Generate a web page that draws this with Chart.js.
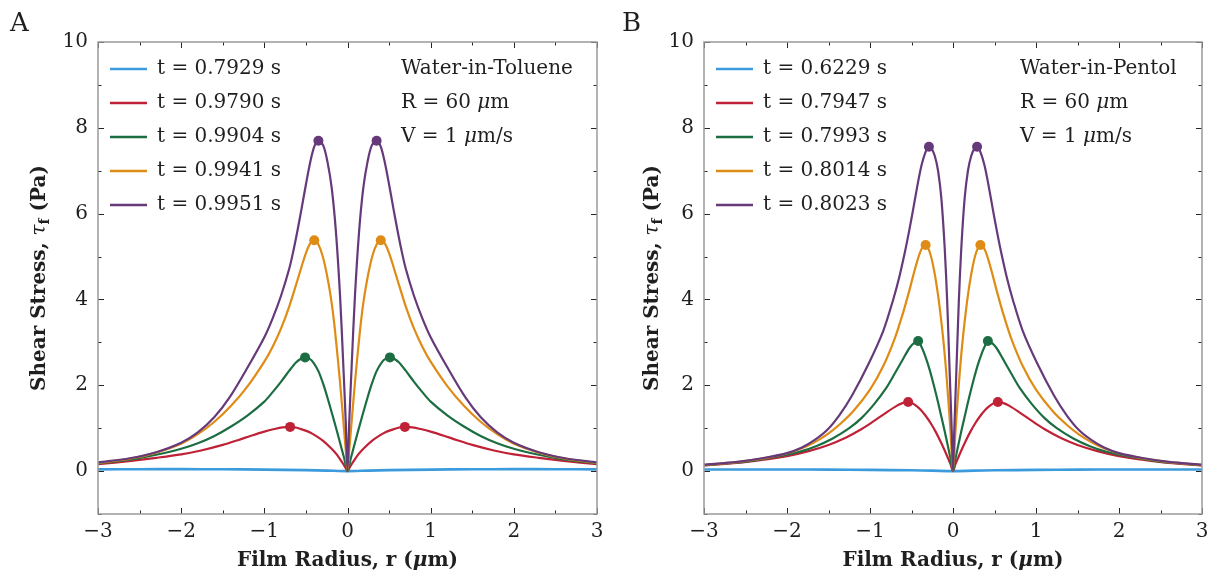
<!DOCTYPE html>
<html>
<head>
<meta charset="utf-8">
<title>Shear stress profiles</title>
<script src="https://cdn.jsdelivr.net/npm/chart.js@4.4.1/dist/chart.umd.min.js"></script>
<style>
  html, body { margin: 0; padding: 0; background: #fff; }
  #wrap { position: relative; width: 1209px; height: 576px; }
  .panel { position: absolute; top: 0; height: 576px; }
  #panelA { left: 0; width: 604px; }
  #panelB { left: 604px; width: 605px; }
</style>
</head>
<body>
<div id="wrap">
  <div class="panel" id="panelA"><canvas id="chartA"></canvas></div>
  <div class="panel" id="panelB"><canvas id="chartB"></canvas></div>
</div>
<script>
// Axes
const xTicks = [-3, -2, -1, 0, 1, 2, 3];
const xMinorTicks = [-2.5, -1.5, -0.5, 0.5, 1.5, 2.5];
const yTicks = [0, 2, 4, 6, 8, 10];
const yMinorTicks = [-1, 1, 3, 5, 7, 9];

// Legend labels
const labelsA = ['t = 0.7929 s', 't = 0.9790 s', 't = 0.9904 s', 't = 0.9941 s', 't = 0.9951 s'];
const labelsB = ['t = 0.6229 s', 't = 0.7947 s', 't = 0.7993 s', 't = 0.8014 s', 't = 0.8023 s'];
const colors = ['#3C9BDD', '#BF2236', '#1C6E42', '#DF8C16', '#663A7A'];

// Panel A (Water-in-Toluene), half profiles r >= 0 (the curves are symmetric)
const rBlueA = [0, 0.25, 0.5, 1, 1.5, 2, 2.5, 3];
const tauBlueA = [0, 0.012, 0.022, 0.035, 0.042, 0.045, 0.044, 0.04];
const rRedA = [0, 0.03, 0.07, 0.13, 0.2, 0.29, 0.37, 0.45, 0.53, 0.61, 0.69, 0.78, 0.88, 1.0, 1.15, 1.32, 1.5, 1.76, 2.0, 2.3, 2.6, 3.0];
const tauRedA = [0, 0.10, 0.22, 0.39, 0.54, 0.70, 0.81, 0.90, 0.96, 1.01, 1.03, 1.02, 0.98, 0.92, 0.83, 0.72, 0.61, 0.48, 0.39, 0.31, 0.24, 0.16];
const rGreenA = [0, 0.04, 0.08, 0.13, 0.18, 0.23, 0.29, 0.35, 0.41, 0.46, 0.51, 0.56, 0.62, 0.70, 0.80, 0.90, 1.0, 1.2, 1.4, 1.6, 1.8, 2.0, 2.3, 2.6, 3.0];
const tauGreenA = [0, 0.30, 0.59, 0.95, 1.30, 1.64, 2.02, 2.33, 2.53, 2.62, 2.65, 2.62, 2.53, 2.34, 2.08, 1.84, 1.62, 1.30, 1.04, 0.82, 0.65, 0.52, 0.38, 0.27, 0.18];
const rOrangeA = [0, 0.02, 0.04, 0.08, 0.11, 0.16, 0.20, 0.25, 0.30, 0.35, 0.40, 0.45, 0.50, 0.55, 0.60, 0.70, 0.80, 0.90, 1.0, 1.2, 1.4, 1.6, 1.8, 2.0, 2.3, 2.6, 3.0];
const tauOrangeA = [0, 0.47, 0.93, 1.85, 2.49, 3.45, 4.05, 4.60, 5.02, 5.28, 5.38, 5.30, 5.08, 4.78, 4.46, 3.84, 3.32, 2.90, 2.55, 1.98, 1.52, 1.15, 0.86, 0.64, 0.43, 0.295, 0.19];
const rPurpleA = [0, 0.02, 0.05, 0.09, 0.14, 0.19, 0.24, 0.29, 0.35, 0.40, 0.45, 0.50, 0.55, 0.60, 0.65, 0.70, 0.80, 0.90, 1.0, 1.2, 1.42, 1.6, 1.8, 2.0, 2.3, 2.6, 3.0];
const tauPurpleA = [0, 1.10, 2.45, 4.10, 5.60, 6.60, 7.20, 7.58, 7.70, 7.56, 7.18, 6.68, 6.14, 5.62, 5.14, 4.72, 4.08, 3.56, 3.12, 2.42, 1.71, 1.26, 0.90, 0.66, 0.44, 0.305, 0.20];
const peakRA = [0.69, 0.51, 0.40, 0.35];
const peakTauA = [1.03, 2.65, 5.38, 7.70];

// Panel B (Water-in-Pentol)
const rBlueB = [0, 0.25, 0.5, 1, 1.5, 2, 2.5, 3];
const tauBlueB = [0, 0.01, 0.018, 0.028, 0.034, 0.037, 0.038, 0.036];
const rRedB = [0, 0.03, 0.06, 0.10, 0.15, 0.21, 0.27, 0.33, 0.39, 0.45, 0.50, 0.54, 0.60, 0.68, 0.80, 0.95, 1.1, 1.3, 1.5, 1.75, 2.0, 2.3, 2.6, 3.0];
const tauRedB = [0, 0.16, 0.30, 0.48, 0.69, 0.92, 1.12, 1.29, 1.43, 1.53, 1.59, 1.61, 1.59, 1.52, 1.37, 1.17, 0.98, 0.77, 0.61, 0.46, 0.35, 0.26, 0.19, 0.13];
const rGreenB = [0, 0.03, 0.06, 0.10, 0.15, 0.20, 0.25, 0.30, 0.35, 0.39, 0.42, 0.46, 0.52, 0.60, 0.70, 0.81, 0.95, 1.10, 1.25, 1.45, 1.65, 1.85, 2.0, 2.3, 2.6, 3.0];
const tauGreenB = [0, 0.29, 0.57, 0.93, 1.35, 1.76, 2.14, 2.48, 2.76, 2.94, 3.03, 3.00, 2.88, 2.62, 2.28, 1.92, 1.56, 1.24, 1.00, 0.76, 0.58, 0.45, 0.38, 0.28, 0.20, 0.14];
const rOrangeB = [0, 0.03, 0.06, 0.09, 0.13, 0.18, 0.23, 0.28, 0.33, 0.38, 0.43, 0.48, 0.53, 0.60, 0.70, 0.84, 1.0, 1.2, 1.37, 1.52, 1.67, 1.82, 2.0, 2.3, 2.6, 3.0];
const tauOrangeB = [0, 0.93, 1.75, 2.50, 3.30, 4.10, 4.70, 5.10, 5.27, 5.17, 4.90, 4.55, 4.18, 3.70, 3.10, 2.45, 1.90, 1.40, 1.08, 0.85, 0.67, 0.53, 0.41, 0.29, 0.21, 0.145];
const rPurpleB = [0, 0.015, 0.04, 0.07, 0.10, 0.14, 0.18, 0.22, 0.26, 0.29, 0.33, 0.38, 0.43, 0.48, 0.53, 0.58, 0.65, 0.72, 0.84, 1.02, 1.22, 1.37, 1.52, 1.67, 1.82, 2.0, 2.3, 2.6, 3.0];
const tauPurpleB = [0, 0.93, 2.30, 3.95, 5.20, 6.35, 7.00, 7.35, 7.52, 7.56, 7.44, 7.12, 6.64, 6.10, 5.58, 5.10, 4.50, 4.00, 3.27, 2.49, 1.75, 1.30, 0.95, 0.72, 0.55, 0.42, 0.30, 0.215, 0.15];
const peakRB = [0.54, 0.42, 0.33, 0.29];
const peakTauB = [1.61, 3.03, 5.27, 7.56];

const fontFamily = '"DejaVu Serif", serif';
const textColor = '#1f1f1f';

// symmetric profile: mirror the r >= 0 readings onto r < 0
function mirrorProfile(r, tau) {
    const pts = [];
    for (let i = r.length - 1; i > 0; i--) pts.push({ x: -r[i], y: tau[i] });
    for (let i = 0; i < r.length; i++) pts.push({ x: r[i], y: tau[i] });
    return pts;
}

function buildDatasets(curves, labels, peakR, peakTau) {
    const sets = curves.map((c, i) => ({
        label: labels[i],
        data: mirrorProfile(c[0], c[1]),
        borderColor: colors[i],
        borderWidth: i === 0 ? 2.6 : 2.2,
        pointRadius: 0,
        tension: 0.3,
        fill: false,
        order: 10 - i,
        isCurve: true
    }));
    peakR.forEach((r, i) => {
        sets.push({
            label: 'peak ' + labels[i + 1],
            data: [{ x: -r, y: peakTau[i] }, { x: r, y: peakTau[i] }],
            showLine: false,
            pointRadius: 5,
            pointBackgroundColor: colors[i + 1],
            pointBorderWidth: 0,
            order: 0
        });
    });
    return sets;
}

function drawRich(ctx, parts, x, y, align) {
    let total = 0;
    parts.forEach(p => { ctx.font = p.font; p.w = ctx.measureText(p.text).width; total += p.w; });
    let cx = align === 'center' ? x - total / 2 : x;
    ctx.textAlign = 'left';
    parts.forEach(p => {
        ctx.font = p.font;
        ctx.fillText(p.text, cx, y + (p.dy || 0));
        cx += p.w;
    });
}

// Box with inward major/minor ticks on all four sides
const frameTicks = {
    id: 'frameTicks',
    afterDatasetsDraw(chart) {
        const { ctx, chartArea: a, scales } = chart;
        const xs = scales.x, ys = scales.y;
        ctx.save();
        ctx.strokeStyle = '#262626';
        ctx.lineWidth = 1;
        const tick = (len, xv, yv) => {
            if (xv !== null) {
                const px = Math.round(xs.getPixelForValue(xv)) + 0.5;
                ctx.beginPath();
                ctx.moveTo(px, a.bottom); ctx.lineTo(px, a.bottom - len);
                ctx.moveTo(px, a.top); ctx.lineTo(px, a.top + len);
                ctx.stroke();
            } else {
                const py = Math.round(ys.getPixelForValue(yv)) + 0.5;
                ctx.beginPath();
                ctx.moveTo(a.left, py); ctx.lineTo(a.left + len, py);
                ctx.moveTo(a.right, py); ctx.lineTo(a.right - len, py);
                ctx.stroke();
            }
        };
        xTicks.forEach(v => tick(6, v, null));
        xMinorTicks.forEach(v => tick(3.5, v, null));
        yTicks.forEach(v => tick(6, null, v));
        yMinorTicks.forEach(v => tick(3.5, null, v));
        ctx.strokeStyle = '#9a9a9a';
        ctx.lineWidth = 1.5;
        ctx.strokeRect(a.left, a.top, a.right - a.left, a.bottom - a.top);
        ctx.restore();
    }
};

// Panel letter, legend, notes and axis titles
const panelText = {
    id: 'panelText',
    afterDraw(chart, args, opts) {
        const { ctx, chartArea: a } = chart;
        ctx.save();
        ctx.fillStyle = textColor;
        ctx.textBaseline = 'middle';

        ctx.font = '26px ' + fontFamily;
        ctx.textAlign = 'left';
        ctx.fillText(opts.letter, opts.letterX, 24);

        // legend
        const curves = chart.data.datasets.filter(d => d.isCurve);
        curves.forEach((d, i) => {
            const y = a.top + 27 + i * 34;
            ctx.strokeStyle = d.borderColor;
            ctx.lineWidth = 2.6;
            ctx.beginPath();
            ctx.moveTo(a.left + 12, y);
            ctx.lineTo(a.left + 49, y);
            ctx.stroke();
            ctx.font = '20px ' + fontFamily;
            ctx.textAlign = 'left';
            ctx.fillText(d.label, a.left + 59, y);
        });

        // notes
        const reg = '20px ' + fontFamily;
        const ita = 'italic 20px ' + fontFamily;
        drawRich(ctx, [{ text: opts.system, font: reg }], opts.noteX, a.top + 27);
        drawRich(ctx, [{ text: 'R = 60 ', font: reg }, { text: 'μ', font: ita }, { text: 'm', font: reg }], opts.noteX, a.top + 61);
        drawRich(ctx, [{ text: 'V = 1 ', font: reg }, { text: 'μ', font: ita }, { text: 'm/s', font: reg }], opts.noteX, a.top + 95);

        // x title
        const bold = 'bold 20px ' + fontFamily;
        drawRich(ctx, [
            { text: 'Film Radius, r (', font: bold },
            { text: 'μ', font: 'italic bold 20px ' + fontFamily },
            { text: 'm)', font: bold }
        ], (a.left + a.right) / 2, 561, 'center');

        // y title
        ctx.translate(opts.yTitleX, (a.top + a.bottom) / 2);
        ctx.rotate(-Math.PI / 2);
        drawRich(ctx, [
            { text: 'Shear Stress, ', font: bold },
            { text: 'τ', font: ita },
            { text: 'f', font: 'bold 14px ' + fontFamily, dy: 5 },
            { text: ' (Pa)', font: bold }
        ], 0, 0, 'center');
        ctx.restore();
    }
};

function makeChart(id, datasets, leftWidth, text) {
    return new Chart(document.getElementById(id).getContext('2d'), {
        type: 'line',
        data: { datasets: datasets },
        options: {
            responsive: true,
            maintainAspectRatio: false,
            animation: false,
            events: [],
            layout: { padding: { top: 42, right: 7, left: 0, bottom: 0 } },
            plugins: {
                legend: { display: false },
                tooltip: { enabled: false },
                panelText: text
            },
            scales: {
                x: {
                    type: 'linear',
                    min: -3,
                    max: 3,
                    grid: { display: false, drawTicks: false },
                    border: { display: false },
                    afterBuildTicks: s => { s.ticks = xTicks.map(v => ({ value: v })); },
                    afterFit: s => { s.height = 62; s.paddingLeft = 0; s.paddingRight = 0; },
                    ticks: {
                        padding: 6,
                        color: textColor,
                        font: { family: fontFamily, size: 20 },
                        maxRotation: 0,
                        callback: v => (v < 0 ? '\u2212' + Math.abs(v) : String(v))
                    }
                },
                y: {
                    type: 'linear',
                    min: -1,
                    max: 10,
                    grid: { display: false, drawTicks: false },
                    border: { display: false },
                    afterBuildTicks: s => { s.ticks = yTicks.map(v => ({ value: v })); },
                    afterFit: s => { s.width = leftWidth; s.paddingTop = 0; s.paddingBottom = 0; },
                    ticks: {
                        padding: 10,
                        color: textColor,
                        font: { family: fontFamily, size: 20 },
                        callback: v => String(v)
                    }
                }
            }
        },
        plugins: [frameTicks, panelText]
    });
}

const curvesA = [[rBlueA, tauBlueA], [rRedA, tauRedA], [rGreenA, tauGreenA], [rOrangeA, tauOrangeA], [rPurpleA, tauPurpleA]];
const curvesB = [[rBlueB, tauBlueB], [rRedB, tauRedB], [rGreenB, tauGreenB], [rOrangeB, tauOrangeB], [rPurpleB, tauPurpleB]];

makeChart('chartA', buildDatasets(curvesA, labelsA, peakRA, peakTauA), 98,
    { letter: 'A', letterX: 10, system: 'Water-in-Toluene', noteX: 401, yTitleX: 40 });
makeChart('chartB', buildDatasets(curvesB, labelsB, peakRB, peakTauB), 100,
    { letter: 'B', letterX: 18, system: 'Water-in-Pentol', noteX: 416, yTitleX: 49 });
</script>
</body>
</html>
